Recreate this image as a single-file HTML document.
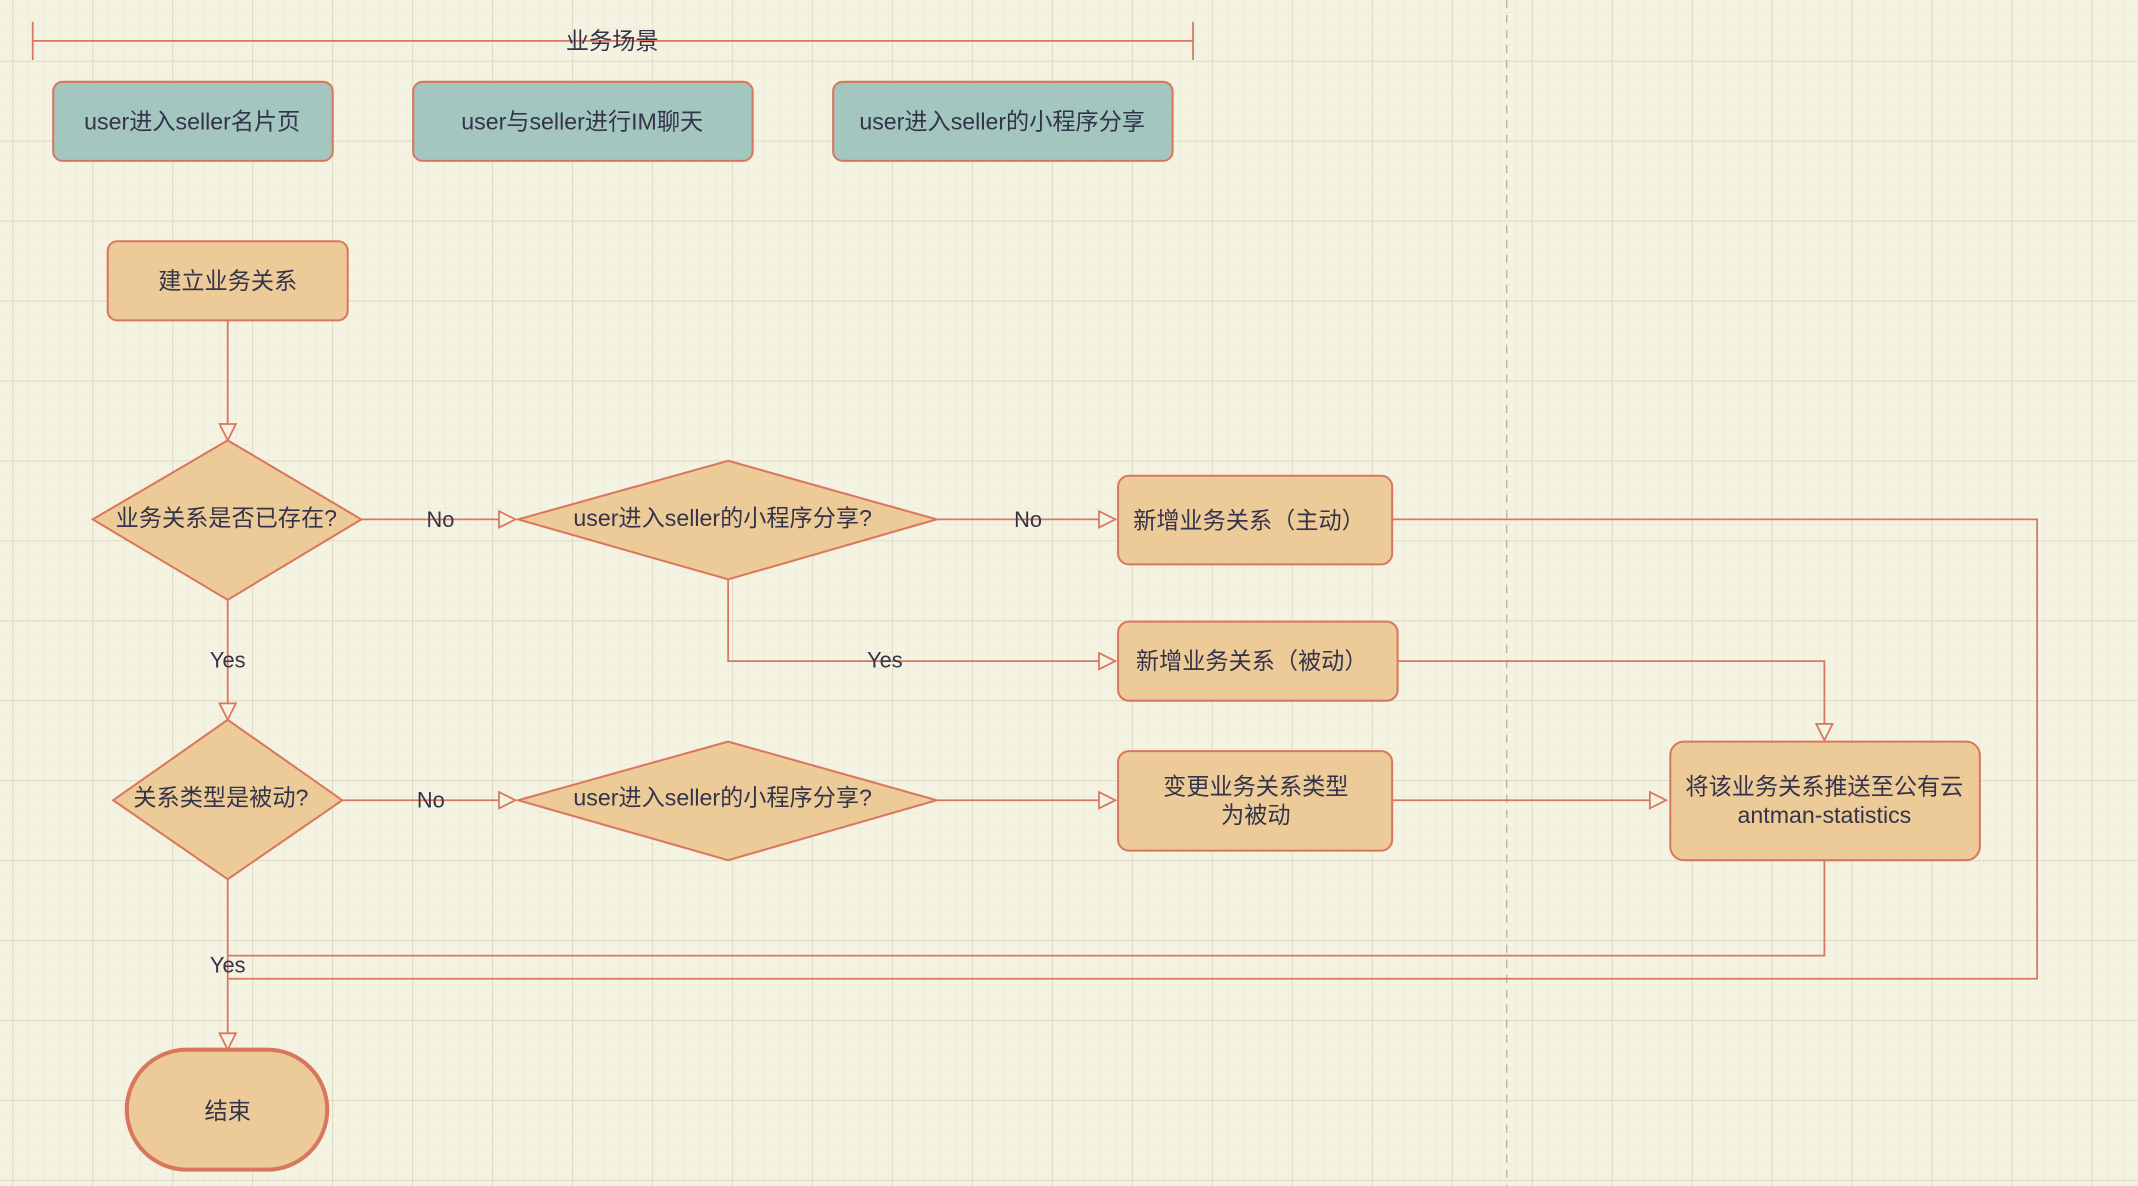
<!DOCTYPE html>
<html><head><meta charset="utf-8"><style>
html,body{margin:0;padding:0;background:#f4f2e1;}
svg{display:block}
text{font-family:"Liberation Sans","Noto Sans CJK SC",sans-serif;fill:#33334a;font-size:17px;text-anchor:middle;dominant-baseline:central}
</style></head><body>
<svg width="2138" height="1186" viewBox="0 0 1568 870" preserveAspectRatio="none" xmlns="http://www.w3.org/2000/svg">
<defs>
<pattern id="minor" width="11.73" height="11.73" patternUnits="userSpaceOnUse" x="9.25" y="44.7">
<path d="M11.73 0V11.73M0 11.73H11.73" stroke="#e6e3cf" stroke-width="0.6" fill="none"/></pattern>
<pattern id="major" width="58.65" height="58.65" patternUnits="userSpaceOnUse" x="9.25" y="44.7">
<path d="M0 0V58.65M0 0H58.65" stroke="#d6d3c0" stroke-width="0.9" fill="none"/></pattern>
</defs>
<rect width="1568" height="870" fill="#f4f2e1"/>
<rect width="1568" height="870" fill="url(#minor)"/>
<rect width="1568" height="870" fill="url(#major)"/>
<line x1="1105" y1="0" x2="1105" y2="870" stroke="#b8b6aa" stroke-width="1" stroke-dasharray="6,5"/>
<g stroke="#d9775e" stroke-width="1.3" fill="none">
<path d="M24 30H875M24 16V44M875 16V44"/>
<path d="M167 235V312"/>
<path d="M265 381H367"/>
<path d="M687 381H807"/>
<path d="M1021 381H1494V718H167"/>
<path d="M534 425V485H807"/>
<path d="M1025 485H1338V531"/>
<path d="M167 440V516"/>
<path d="M251 587H367"/>
<path d="M687 587H807"/>
<path d="M1021 587H1211"/>
<path d="M1338 631V701H167"/>
<path d="M167 645V758"/>
</g>
<g stroke="#d9775e" stroke-width="1.3" fill="#f4f2e1">
<path d="M161 311L173 311L167 323Z"/>
<path d="M366 375L366 387L378 381Z"/>
<path d="M806 375L806 387L818 381Z"/>
<path d="M806 479L806 491L818 485Z"/>
<path d="M1332 531L1344 531L1338 543Z"/>
<path d="M161 516L173 516L167 528Z"/>
<path d="M366 581L366 593L378 587Z"/>
<path d="M806 581L806 593L818 587Z"/>
<path d="M1210 581L1210 593L1222 587Z"/>
<path d="M161 758L173 758L167 770Z"/>
</g>
<rect x="440" y="20" width="18" height="0"/>
<text x="449" y="30" style="paint-order:stroke;stroke:#f4f2e1;stroke-width:0">业务场景</text>
<g stroke="#d9775e" stroke-width="1.5">
<rect x="39" y="60" width="205" height="58" rx="7" fill="#a3c6bf"/>
<rect x="303" y="60" width="249" height="58" rx="7" fill="#a3c6bf"/>
<rect x="611" y="60" width="249" height="58" rx="7" fill="#a3c6bf"/>
<rect x="79" y="177" width="176" height="58" rx="7" fill="#edcb98"/>
<path d="M167 323L265 381L167 440L68 381Z" fill="#edcb98"/>
<path d="M534 338L687 381L534 425L380 381Z" fill="#edcb98"/>
<rect x="820" y="349" width="201" height="65" rx="8" fill="#edcb98"/>
<rect x="820" y="456" width="205" height="58" rx="8" fill="#edcb98"/>
<path d="M167 528L251 587L167 645L83 587Z" fill="#edcb98"/>
<path d="M534 544L687 587L534 631L380 587Z" fill="#edcb98"/>
<rect x="820" y="551" width="201" height="73" rx="8" fill="#edcb98"/>
<rect x="1225" y="544" width="227" height="87" rx="10" fill="#edcb98"/>
<rect x="93" y="770" width="147" height="88" rx="44" fill="#edcb98" stroke-width="3"/>
</g>
<text x="141" y="89">user进入seller名片页</text>
<text x="427" y="89">user与seller进行IM聊天</text>
<text x="735" y="89">user进入seller的小程序分享</text>
<text x="167" y="206">建立业务关系</text>
<text x="166" y="380">业务关系是否已存在?</text>
<text x="530" y="380">user进入seller的小程序分享?</text>
<text x="916" y="382">新增业务关系（主动）</text>
<text x="918" y="485">新增业务关系（被动）</text>
<text x="162" y="585">关系类型是被动?</text>
<text x="530" y="585">user进入seller的小程序分享?</text>
<text x="921" y="577">变更业务关系类型</text>
<text x="921" y="598">为被动</text>
<text x="1338" y="577">将该业务关系推送至公有云</text>
<text x="1338" y="598">antman-statistics</text>
<text x="167" y="815">结束</text>
<text x="323" y="381" style="font-size:16px">No</text>
<text x="754" y="381" style="font-size:16px">No</text>
<text x="649" y="484" style="font-size:16px">Yes</text>
<text x="167" y="484" style="font-size:16px">Yes</text>
<text x="316" y="587" style="font-size:16px">No</text>
<text x="167" y="708" style="font-size:16px">Yes</text>
</svg>
</body></html>
